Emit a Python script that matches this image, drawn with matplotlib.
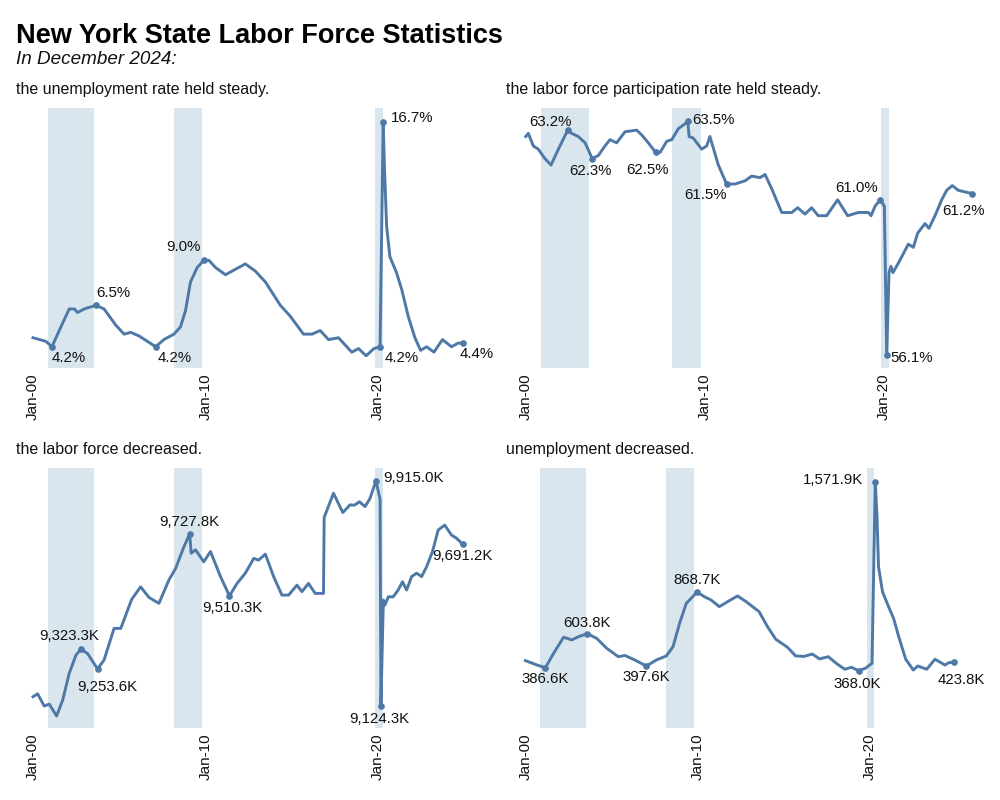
import numpy as np
import matplotlib
matplotlib.use("Agg")
import matplotlib.pyplot as plt

plt.rcParams['font.family'] = ['Liberation Sans', 'DejaVu Sans']

# time is in decimal years
# unemployment rate (%)
ur_t = [2000.0, 2000.75, 2001.1, 2001.52, 2002.1, 2002.4, 2002.58, 2002.97, 2003.64, 2004.12,
        2004.8, 2005.28, 2005.66, 2006.15, 2006.63, 2007.11, 2007.59, 2008.17, 2008.55, 2008.84,
        2009.13, 2009.52, 2009.9, 2010.2, 2010.58, 2011.16, 2011.73, 2012.31, 2012.6, 2012.89,
        2013.47, 2014.34, 2014.91, 2015.68, 2016.17, 2016.65, 2017.13, 2017.71, 2018.48, 2018.87,
        2019.31, 2019.77, 2020.12, 2020.3, 2020.38, 2020.5, 2020.69, 2021.08, 2021.37, 2021.75,
        2022.14, 2022.47, 2022.82, 2023.24, 2023.74, 2024.26, 2024.64, 2024.92]
ur_v = [4.7, 4.5, 4.2, 5.1, 6.3, 6.3, 6.1, 6.3, 6.5, 6.3,
        5.4, 4.9, 5.0, 4.8, 4.5, 4.2, 4.6, 4.9, 5.3, 6.2,
        7.8, 8.6, 9.0, 9.0, 8.6, 8.2, 8.5, 8.8, 8.6, 8.4,
        7.8, 6.5, 5.9, 4.9, 4.9, 5.1, 4.6, 4.7, 3.9, 4.1,
        3.7, 4.1, 4.2, 16.7, 14.0, 10.9, 9.2, 8.3, 7.4, 5.9,
        4.7, 4.0, 4.2, 3.9, 4.6, 4.2, 4.4, 4.4]
ur_lab_t = [2001.1, 2003.64, 2007.11, 2009.9, 2020.12, 2020.3, 2024.92]

# labor force participation rate (%)
lfpr_t = [2000.0, 2000.14, 2000.42, 2000.7, 2001.07, 2001.41, 2001.82, 2002.34, 2002.56, 2002.93,
          2003.31, 2003.71, 2004.05, 2004.42, 2004.7, 2005.07, 2005.54, 2006.19, 2006.47, 2006.84,
          2007.25, 2007.5, 2007.87, 2008.15, 2008.52, 2008.89, 2009.04, 2009.12, 2009.35, 2009.82,
          2010.1, 2010.28, 2010.75, 2011.21, 2011.68, 2012.24, 2012.61, 2013.08, 2013.36, 2013.73,
          2014.29, 2014.85, 2015.18, 2015.59, 2015.96, 2016.33, 2016.8, 2017.41, 2017.97, 2018.57,
          2019.13, 2019.28, 2019.5, 2019.79, 2020.02, 2020.15, 2020.28, 2020.39, 2020.5, 2020.8,
          2021.08, 2021.36, 2021.64, 2021.88, 2022.29, 2022.51, 2022.85, 2023.22, 2023.5, 2023.81,
          2024.15, 2024.52, 2024.92]
lfpr_v = [63.0, 63.1, 62.7, 62.6, 62.3, 62.1, 62.6, 63.2, 63.1, 63.0,
          62.8, 62.3, 62.4, 62.7, 62.9, 62.8, 63.15, 63.2, 63.05, 62.8,
          62.5, 62.5, 62.85, 62.9, 63.25, 63.4, 63.5, 63.0, 62.95, 62.6,
          62.7, 63.0, 62.1, 61.5, 61.5, 61.6, 61.75, 61.7, 61.8, 61.35,
          60.6, 60.6, 60.75, 60.55, 60.75, 60.5, 60.5, 61.0, 60.5, 60.6,
          60.6, 60.5, 60.8, 61.0, 60.8, 56.1, 58.7, 58.9, 58.7, 59.0,
          59.3, 59.6, 59.5, 59.95, 60.25, 60.1, 60.5, 61.0, 61.3, 61.45,
          61.3, 61.25, 61.2]
lfpr_lab_t = [2002.34, 2003.71, 2007.25, 2009.04, 2011.21, 2019.79, 2020.15, 2024.92]

# labor force (thousands)
lf_t = [2000.0, 2000.27, 2000.65, 2000.94, 2001.37, 2001.72, 2002.1, 2002.49, 2002.77, 2003.16,
        2003.74, 2004.12, 2004.7, 2005.09, 2005.72, 2006.24, 2006.72, 2007.3, 2007.88, 2008.27,
        2008.75, 2009.08, 2009.17, 2009.42, 2009.9, 2010.29, 2010.87, 2011.39, 2011.83, 2012.31,
        2012.8, 2013.08, 2013.47, 2013.95, 2014.43, 2014.82, 2015.3, 2015.59, 2015.97, 2016.36,
        2016.84, 2016.88, 2017.42, 2017.96, 2018.38, 2018.64, 2018.92, 2019.25, 2019.54, 2019.88,
        2020.12, 2020.17, 2020.31, 2020.4, 2020.6, 2020.88, 2021.17, 2021.42, 2021.66, 2021.95,
        2022.24, 2022.53, 2022.82, 2023.16, 2023.49, 2023.87, 2024.26, 2024.55, 2024.92]
lf_v = [9156, 9166, 9123, 9130, 9088, 9144, 9238, 9302, 9323.3, 9308,
        9253.6, 9285, 9396, 9396, 9498, 9542, 9505, 9484, 9566, 9607,
        9683, 9727.8, 9660, 9672, 9630, 9666, 9578, 9510.3, 9554, 9590,
        9642, 9636, 9657, 9578, 9513, 9513, 9548, 9525, 9554, 9519,
        9519, 9786, 9871, 9803, 9830, 9829, 9841, 9824, 9853, 9915.0,
        9850, 9124.3, 9496, 9478, 9507, 9507, 9531, 9560, 9531, 9578,
        9590, 9578, 9613, 9666, 9742, 9759, 9724, 9713, 9691.2]
lf_lab_t = [2002.77, 2003.74, 2009.08, 2011.39, 2019.88, 2020.17, 2024.92]

# unemployment (thousands)
un_t = [2000.0, 2000.68, 2001.16, 2001.64, 2002.22, 2002.7, 2003.09, 2003.6, 2004.14, 2004.72,
        2005.4, 2005.78, 2006.36, 2007.03, 2007.61, 2008.19, 2008.58, 2008.96, 2009.35, 2009.98,
        2010.4, 2010.79, 2011.27, 2011.85, 2012.33, 2012.82, 2013.58, 2014.07, 2014.55, 2015.23,
        2015.7, 2016.19, 2016.67, 2017.09, 2017.6, 2018.11, 2018.56, 2018.94, 2019.36, 2019.75,
        2020.14, 2020.33, 2020.43, 2020.52, 2020.75, 2021.1, 2021.39, 2021.72, 2022.1, 2022.54,
        2022.8, 2023.32, 2023.8, 2024.38, 2024.6, 2024.92]
un_v = [432, 404, 386.6, 479, 581, 564, 585, 603.8, 574, 511,
        457, 465, 436, 397.6, 436, 462, 521, 670, 797, 868.7,
        839, 818, 776, 814, 844, 808, 744, 648, 568, 517,
        462, 459, 474, 443, 457, 411, 377, 390, 368.0, 383,
        415, 1571.9, 1349, 1030, 871, 776, 702, 574, 441, 372,
        398, 377, 441, 404, 419, 423.8]
un_lab_t = [2001.16, 2003.6, 2007.03, 2009.98, 2020.33, 2019.36, 2024.92]

# shaded recession periods
rec_start = [2000.85, 2008.17, 2019.83]
rec_end = [2003.52, 2009.78, 2020.27]

tick_years = [2000, 2010, 2020]
tick_labels = ['Jan-00', 'Jan-10', 'Jan-20']

line_color = '#4e79a7'
shade_color = '#dae6ee'

fig = plt.figure(figsize=(10, 8), dpi=100)

# panel setup: pixel box (left, right, top, bottom), limits, title, label placement (ha, dx, dy)
panels = [
    dict(box=(15, 495, 108, 368), t=ur_t, v=ur_v, lab_t=ur_lab_t,
         xlim=(1998.957, 2026.783), ylim=(3.02, 17.46),
         title='the unemployment rate held steady.', title_y=94,
         fmt=lambda v: f'{v:.1f}%',
         place=[('left', 0, -11), ('left', 0, 12), ('left', 2, -11), ('right', -3, 13),
                ('left', 5, -11), ('left', 8, 4), ('left', -3, -11)]),
    dict(box=(505, 995, 108, 368), t=lfpr_t, v=lfpr_v, lab_t=lfpr_lab_t,
         xlim=(1998.839, 2026.198), ylim=(55.69, 63.9),
         title='the labor force participation rate held steady.', title_y=94,
         fmt=lambda v: f'{v:.1f}%',
         place=[('center', -17, 8), ('center', -2, -12), ('center', -8, -18), ('left', 5, 1),
                ('right', 0, -11), ('right', -2, 12), ('left', 4, -3), ('center', -9, -17)]),
    dict(box=(15, 495, 468, 728), t=lf_t, v=lf_v, lab_t=lf_lab_t,
         xlim=(1998.957, 2026.783), ylim=(9046, 9959.6),
         title='the labor force decreased.', title_y=454,
         fmt=lambda v: f'{v:,.1f}K',
         place=[('center', -12, 13), ('center', 10, -18), ('center', 0, 12), ('center', 3, -12),
                ('left', 7, 3), ('center', -2, -13), ('center', 0, -12)]),
    dict(box=(505, 995, 468, 728), t=un_t, v=un_v, lab_t=un_lab_t,
         xlim=(1998.815, 2027.287), ylim=(2.9, 1659),
         title='unemployment decreased.', title_y=454,
         fmt=lambda v: f'{v:,.1f}K',
         place=[('center', 0, -11), ('center', 0, 11), ('center', 0, -11), ('center', 0, 12),
                ('right', -12, 2), ('center', -1, -13), ('center', 7, -18)]),
]

for p in panels:
    x0, x1, y0, y1 = p['box']
    ax = fig.add_axes([x0 / 1000, 1 - y1 / 800, (x1 - x0) / 1000, (y1 - y0) / 800])

    for s, e in zip(rec_start, rec_end):
        ax.axvspan(s, e, color=shade_color, lw=0, zorder=0)

    ax.plot(p['t'], p['v'], color=line_color, lw=2.1, solid_joinstyle='round', zorder=2)

    # labelled points
    lab_v = [p['v'][p['t'].index(tt)] for tt in p['lab_t']]
    ax.plot(p['lab_t'], lab_v, 'o', color=line_color, ms=3.8, zorder=3)
    for tt, vv, (ha, dx, dy) in zip(p['lab_t'], lab_v, p['place']):
        ax.annotate(p['fmt'](vv), (tt, vv), xytext=(dx, dy), textcoords='offset pixels',
                    ha=ha, va='center', fontsize=10.8, color='#111111')

    ax.set_xlim(*p['xlim'])
    ax.set_ylim(*p['ylim'])
    ax.set_xticks(tick_years)
    ax.set_xticklabels(tick_labels, rotation=90, fontsize=11, color='#111111')
    ax.tick_params(axis='x', length=0, pad=4)
    ax.set_yticks([])
    for sp in ax.spines.values():
        sp.set_visible(False)
    ax.patch.set_alpha(0)

    fig.text(x0 / 1000 + 0.001, 1 - p['title_y'] / 800, p['title'], fontsize=11.5,
             va='baseline', ha='left', color='#111111')

fig.text(0.016, 1 - 42.7 / 800, 'New York State Labor Force Statistics', fontsize=19.5,
         fontweight='bold', va='baseline', ha='left', color='#000000')
fig.text(0.016, 1 - 64 / 800, 'In December 2024:', fontsize=13.6, style='italic',
         va='baseline', ha='left', color='#111111')

fig.savefig('out.png', dpi=100)
